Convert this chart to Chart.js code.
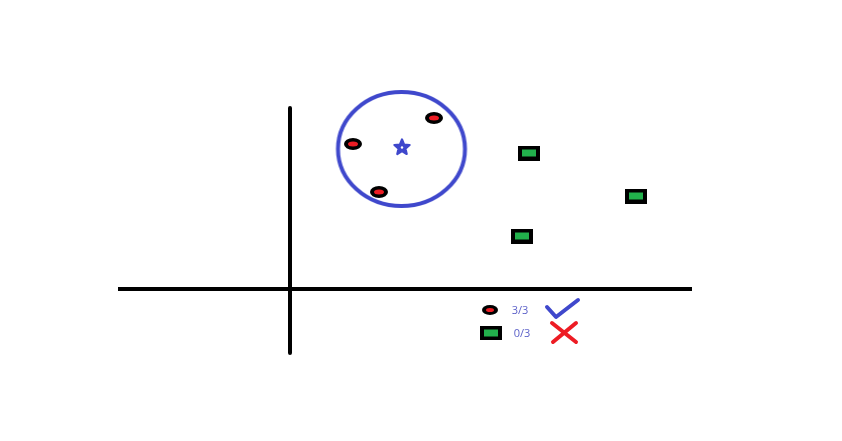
<!DOCTYPE html>
<html>
<head>
<meta charset="utf-8">
<script src="https://cdn.jsdelivr.net/npm/chart.js@4/dist/chart.umd.min.js"></script>
<style>
html,body{margin:0;padding:0;background:#fff;}
canvas{display:block;}
</style>
</head>
<body>
<canvas id="c" width="842" height="441"></canvas>
<script>
// ---- data (in drawing-plane units, y grows downward) ----
const classRed   = [[353,144],[434,118],[379,192]];   // red ellipse samples
const classGreen = [[529,153],[636,196],[522,236]];   // green rectangle samples
const queryPoint = [[402,147]];                       // unknown sample (star)
const neighborhood = [[401.5,149]];                   // circle of k nearest neighbours
const axisX = [[118,289],[692,289]];
const axisY = [[290,108],[290,353]];
const legendRed   = [[490,310]];
const legendGreen = [[491,333]];
const legendLabels = ['3/3','0/3'];
const legendLabelPos = [[520,311],[522,334]];
const checkMark = [[547,307],[556,317],[578,300]];
const crossA = [[552,323],[576,342]];
const crossB = [[576,323],[553,342]];

const toPts = a => a.map(p => ({x:p[0], y:p[1]}));

const BLUE = '#3f48cc';
const RED = '#ed1c24';
const GREEN = '#22b14c';

function mk(w,h,fn){const c=document.createElement('canvas');c.width=w;c.height=h;fn(c.getContext('2d'));return c;}
const ellipseIcon = (w,h,iw,ih)=>mk(w,h,ctx=>{
  ctx.fillStyle='#000';ctx.beginPath();ctx.ellipse(w/2,h/2,w/2,h/2,0,0,Math.PI*2);ctx.fill();
  ctx.fillStyle=RED;ctx.beginPath();ctx.ellipse(w/2,h/2,iw/2,ih/2,0,0,Math.PI*2);ctx.fill();
});
const rectIcon = (w,h,iw,ih)=>mk(w,h,ctx=>{
  ctx.fillStyle='#000';ctx.fillRect(0,0,w,h);
  ctx.fillStyle=GREEN;ctx.fillRect((w-iw)/2,(h-ih)/2,iw,ih);
});
const starIcon = mk(22,22,ctx=>{
  ctx.strokeStyle=BLUE;ctx.fillStyle=BLUE;ctx.lineWidth=2.2;ctx.lineJoin='round';ctx.beginPath();
  for(let i=0;i<10;i++){const r=i%2?3.6:8;const a=-Math.PI/2+i*Math.PI/5;
    const x=11+r*Math.cos(a),y=11.5+r*Math.sin(a);i?ctx.lineTo(x,y):ctx.moveTo(x,y);}
  ctx.closePath();ctx.fill();ctx.stroke();
  ctx.fillStyle='#fff';ctx.beginPath();ctx.arc(11,11.5,1.2,0,Math.PI*2);ctx.fill();
});
const circleIcon = mk(134,122,ctx=>{
  ctx.strokeStyle=BLUE;ctx.lineWidth=4;ctx.beginPath();
  ctx.ellipse(67,61,63.5,57,0,0,Math.PI*2);ctx.stroke();
});

const lineDs = (data,color,w)=>({data:toPts(data),showLine:true,borderColor:color,borderWidth:w,pointRadius:0,fill:false,borderCapStyle:'round',borderJoinStyle:'round'});
const ptDs = (data,icon)=>({data:toPts(data),showLine:false,pointStyle:icon,pointRadius:10,pointHoverRadius:10,borderWidth:0});

const labelPlugin = {
  id:'labels',
  afterDatasetsDraw(chart){
    const {ctx,scales:{x,y}}=chart;
    ctx.save();
    ctx.font='11px "Open Sans", sans-serif';
    ctx.fillStyle='#5a5fc8';
    ctx.textAlign='center';ctx.textBaseline='middle';
    legendLabels.forEach((t,i)=>ctx.fillText(t,x.getPixelForValue(legendLabelPos[i][0]),y.getPixelForValue(legendLabelPos[i][1])));
    ctx.restore();
  }
};

new Chart(document.getElementById('c'),{
  type:'scatter',
  data:{datasets:[
    Object.assign(lineDs(axisX,'#000',4),{borderCapStyle:'butt'}),
    Object.assign(lineDs(axisY,'#000',4),{borderCapStyle:'butt'}),
    ptDs(neighborhood,circleIcon),
    ptDs(queryPoint,starIcon),
    ptDs(classRed,ellipseIcon(18,12,10,5)),
    ptDs(classGreen,rectIcon(22,15,14,7)),
    ptDs(legendRed,ellipseIcon(16,10,8,4)),
    ptDs(legendGreen,rectIcon(22,14,14,7)),
    lineDs(checkMark,BLUE,4),
    lineDs(crossA,RED,4),
    lineDs(crossB,RED,4)
  ]},
  options:{
    responsive:false,animation:false,events:[],
    layout:{padding:0,autoPadding:false},
    plugins:{legend:{display:false},tooltip:{enabled:false}},
    scales:{
      x:{type:'linear',min:0,max:842,display:false},
      y:{type:'linear',min:0,max:441,reverse:true,display:false}
    }
  },
  plugins:[labelPlugin]
});
</script>
</body>
</html>
